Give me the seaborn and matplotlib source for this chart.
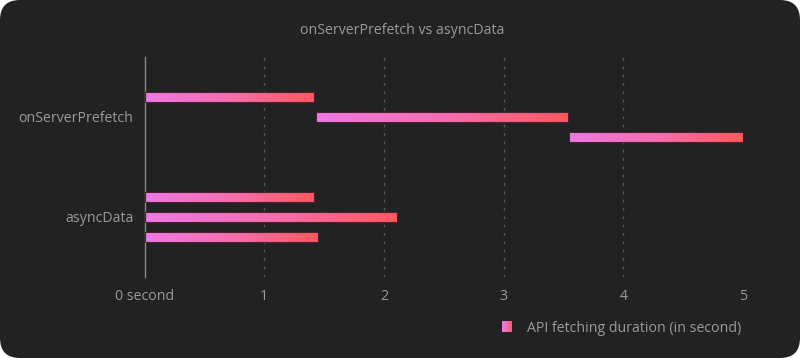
import numpy as np
import pandas as pd
import matplotlib
matplotlib.use("Agg")
import matplotlib.pyplot as plt
import seaborn as sns
from matplotlib.patches import Rectangle, FancyBboxPatch
from matplotlib.legend_handler import HandlerBase
from matplotlib.colors import LinearSegmentedColormap
from matplotlib.transforms import IdentityTransform

# ---- data ----
categories = ["onServerPrefetch", "asyncData"]
runs = ["run 1", "run 2", "run 3"]
prefetch_start = [0.0, 1.43, 3.55]
prefetch_end = [1.42, 3.54, 5.0]
asyncdata_start = [0.0, 0.0, 0.0]
asyncdata_end = [1.42, 2.11, 1.45]
xtick_values = [0, 1, 2, 3, 4, 5]
xtick_labels = ["0 second", "1", "2", "3", "4", "5"]
title = "onServerPrefetch vs asyncData"
legend_label = "API fetching duration (in second)"

rows = []
for cat, st, en in [(categories[0], prefetch_start, prefetch_end),
                    (categories[1], asyncdata_start, asyncdata_end)]:
    for r, s, e in zip(runs, st, en):
        rows.append(dict(category=cat, run=r, start=s, end=e, dur=e - s))
df = pd.DataFrame(rows)

BG = "#222222"
TXT = "#9a9a9a"
C_LEFT = "#ee7ae4"
C_RIGHT = "#ff5a5c"
cmap = LinearSegmentedColormap.from_list("grad", [C_LEFT, "#f56fb0", C_RIGHT])
FS = 10.2

sns.set_theme(style="dark")
plt.rcParams["font.family"] = ["Open Sans", "DejaVu Sans"]

fig = plt.figure(figsize=(8, 3.58), dpi=100)
fig.patch.set_facecolor("white")
fig.add_artist(FancyBboxPatch((0, 0), 800, 358,
                              boxstyle="round,pad=0,rounding_size=20",
                              transform=IdentityTransform(),
                              facecolor=BG, edgecolor="none", zorder=-10))

ax = fig.add_axes([144.5 / 800, 1 - 277 / 358, (743 - 144.5) / 800, 220 / 358])
ax.set_facecolor("none")

sns.barplot(data=df, x="dur", y="category", hue="run", order=categories,
            hue_order=runs, orient="h", width=0.6, gap=0.5, dodge=True,
            ax=ax, legend=False, errorbar=None)

# shift bars to their start (floating bars)
for r, cont in zip(runs, ax.containers):
    for cat, bar in zip(categories, cont):
        s = df[(df.run == r) & (df.category == cat)].start.iloc[0]
        bar.set_x(s)

ax.set_xlim(0, 5)
ax.set_ylim(1.6, -0.6)

grad = np.linspace(0, 1, 256).reshape(1, -1)
for cont in ax.containers:
    for bar in cont:
        x0, y0 = bar.get_x(), bar.get_y()
        w, h = bar.get_width(), bar.get_height()
        im = ax.imshow(grad, cmap=cmap, aspect="auto",
                       extent=[x0, x0 + w, y0 + h, y0], zorder=2,
                       interpolation="bilinear")
        im.set_clip_path(bar)
        bar.set_facecolor("none")
        bar.set_edgecolor("#4a2232")
        bar.set_linewidth(0.8)
        bar.set_zorder(3)

ax.set_xlim(0, 5)
ax.set_ylim(1.6, -0.6)

# grid and spines
for xv in xtick_values[1:]:
    ax.axvline(xv, color="#585858", lw=1, ls=(0, (2, 4)), zorder=1)
for s in ["top", "right", "bottom"]:
    ax.spines[s].set_visible(False)
ax.spines["left"].set_color("#8a8a8a")
ax.spines["left"].set_linewidth(1)
ax.grid(False)

ax.set_xticks(xtick_values)
ax.set_xticklabels(xtick_labels)
ax.tick_params(axis="both", length=0, colors=TXT, labelsize=FS)
ax.tick_params(axis="x", pad=9)
ax.tick_params(axis="y", pad=8)
ax.set_xlabel("")
ax.set_ylabel("")

fig.text(402 / 800, 1 - 30 / 358, title, ha="center", va="center",
         color=TXT, fontsize=FS)


class GradHandler(HandlerBase):
    def create_artists(self, legend, orig_handle, xdescent, ydescent,
                       width, height, fontsize, trans):
        n = 30
        arts = []
        for i in range(n):
            arts.append(Rectangle((-xdescent + width * i / n, -ydescent),
                                  width / n * 1.1, height,
                                  facecolor=cmap(i / (n - 1)),
                                  edgecolor="none", transform=trans))
        return arts


h = Rectangle((0, 0), 1, 1)
leg = fig.legend([h], [legend_label], handler_map={Rectangle: GradHandler()},
                 loc="center left", bbox_to_anchor=(502 / 800, 1 - 328 / 358),
                 frameon=False, fontsize=FS, borderpad=0, borderaxespad=0,
                 handlelength=0.72, handleheight=0.72, handletextpad=1.05)
for t in leg.get_texts():
    t.set_color(TXT)

fig.savefig("out.png", dpi=100)
